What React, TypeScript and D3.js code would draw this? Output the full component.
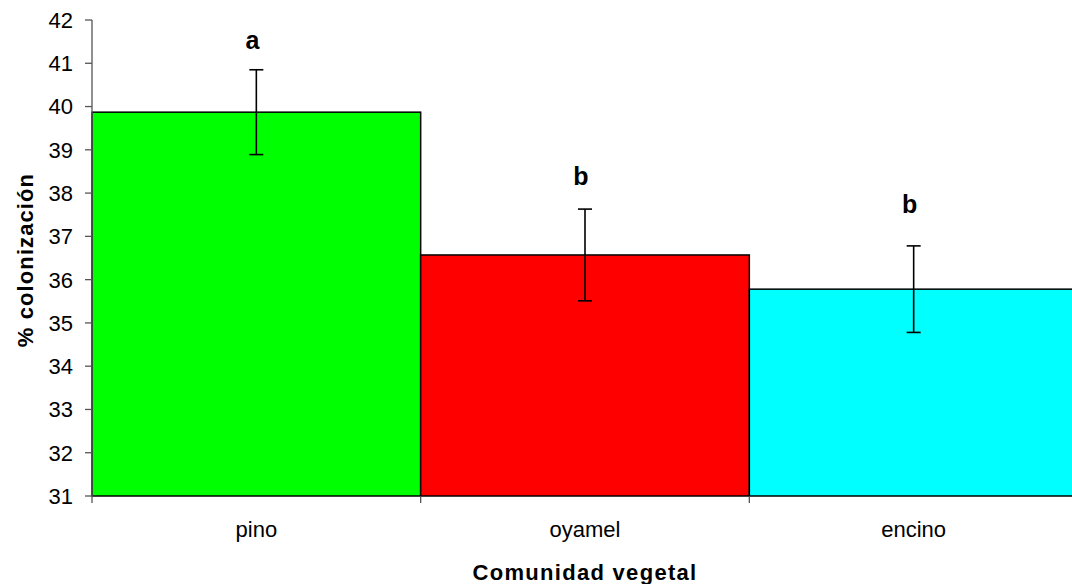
import React from 'react';
import * as d3 from 'd3';

// chart values
const categories = ['pino', 'oyamel', 'encino'];
const means = [39.87, 36.57, 35.78];
const errors = [0.98, 1.06, 1.0];
const letters = ['a', 'b', 'b'];
const letterAt = [41.33, 38.19, 37.54];
const colors = ['#00ff00', '#ff0000', '#00ffff'];
const yTicks = [31, 32, 33, 34, 35, 36, 37, 38, 39, 40, 41, 42];

const width = 1072;
const height = 584;
const margin = { top: 20, right: -6, bottom: 88, left: 92 };
const font = "'Liberation Sans', Arial, sans-serif";

const App: React.FC = () => {
  const x = d3
    .scaleBand<string>()
    .domain(categories)
    .range([margin.left, width - margin.right])
    .paddingInner(0)
    .paddingOuter(0);

  const y = d3
    .scaleLinear()
    .domain([31, 42])
    .range([height - margin.bottom, margin.top]);

  const bw = x.bandwidth();
  const y0 = y(31);
  const cap = 7;

  return (
    <svg
      width={width}
      height={height}
      style={{ position: 'absolute', left: 0, top: 0, background: '#fff' }}
      fontFamily={font}
    >
      {/* bars */}
      {categories.map((c, i) => (
        <rect
          key={c}
          x={x(c)}
          y={y(means[i])}
          width={bw}
          height={y0 - y(means[i])}
          fill={colors[i]}
          stroke="#000"
          strokeWidth={1.5}
        />
      ))}

      {/* y axis */}
      <line x1={margin.left} x2={margin.left} y1={margin.top} y2={y0} stroke="#555" strokeWidth={1.3} />
      {yTicks.map((t) => (
        <g key={t}>
          <line x1={margin.left - 7} x2={margin.left} y1={y(t)} y2={y(t)} stroke="#555" strokeWidth={1.3} />
          <text x={margin.left - 19} y={y(t)} dy="0.36em" textAnchor="end" fontSize={22} fill="#000">
            {t}
          </text>
        </g>
      ))}

      {/* x axis ticks at band edges */}
      {categories.map((c) => (
        <line
          key={c}
          x1={x(c)}
          x2={x(c)}
          y1={y0}
          y2={y0 + 7}
          stroke="#555"
          strokeWidth={1.3}
        />
      ))}
      {categories.map((c) => (
        <text
          key={c}
          x={(x(c) ?? 0) + bw / 2}
          y={537}
          textAnchor="middle"
          fontSize={22}
          fill="#000"
        >
          {c}
        </text>
      ))}

      {/* error bars */}
      {categories.map((c, i) => {
        const cx = (x(c) ?? 0) + bw / 2;
        const top = y(means[i] + errors[i]);
        const bot = y(means[i] - errors[i]);
        return (
          <g key={c} stroke="#000" strokeWidth={1.6}>
            <line x1={cx} x2={cx} y1={top} y2={bot} />
            <line x1={cx - cap} x2={cx + cap} y1={top} y2={top} />
            <line x1={cx - cap} x2={cx + cap} y1={bot} y2={bot} />
          </g>
        );
      })}

      {/* significance letters */}
      {categories.map((c, i) => (
        <text
          key={c}
          x={(x(c) ?? 0) + bw / 2 - 4}
          y={y(letterAt[i])}
          textAnchor="middle"
          fontSize={25}
          fontWeight="bold"
          fill="#000"
        >
          {letters[i]}
        </text>
      ))}

      {/* axis titles */}
      <text x={585} y={580} textAnchor="middle" fontSize={22} letterSpacing={1.3} fontWeight="bold" fill="#000">
        Comunidad vegetal
      </text>
      <text
        transform="translate(33,260) rotate(-90)"
        textAnchor="middle"
        fontSize={22}
        letterSpacing={1.1}
        fontWeight="bold"
        fill="#000"
      >
        % colonización
      </text>
    </svg>
  );
};

export default App;
